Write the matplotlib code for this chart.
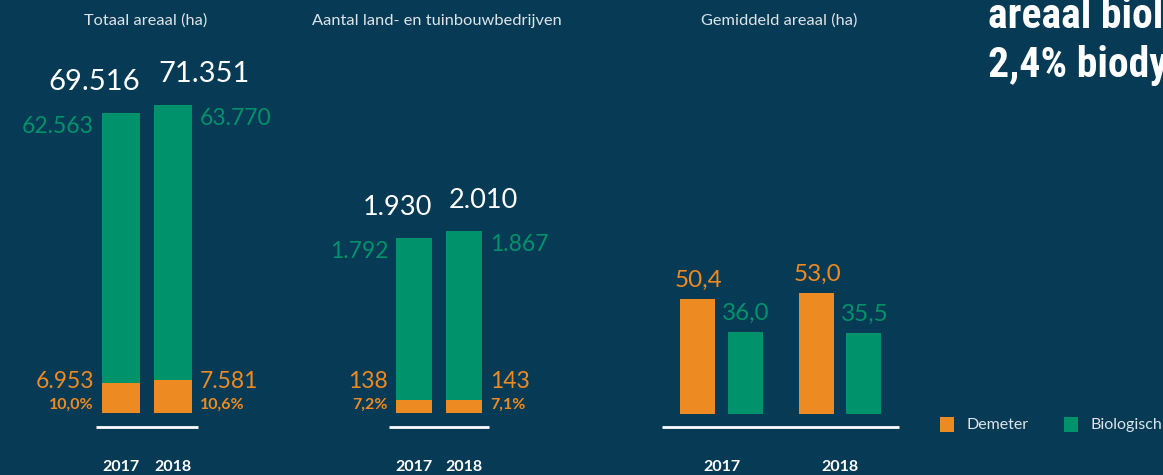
import matplotlib.pyplot as plt
from matplotlib.patches import Rectangle
from matplotlib.transforms import offset_copy

# Data
years = ['2017', '2018']

area_dem = [6953, 7581]          # Demeter (ha)
area_bio = [62563, 63770]        # Biologisch (ha)

farms_dem = [138, 143]
farms_bio = [1792, 1867]

avg_dem = [50.4, 53.0]           # gemiddeld areaal (ha)
avg_bio = [36.0, 35.5]

titles = ['Totaal areaal (ha)', 'Aantal land- en tuinbouwbedrijven', 'Gemiddeld areaal (ha)']
legend_labels = ['Demeter', 'Biologisch']
heading = ['areaal biologisch', '2,4% biodynamisch']

BG = '#073a55'
ORANGE = '#ee8a22'
GREEN = '#00926b'
WHITE = '#ffffff'
GREY = '#dde5ea'

W, H = 1163, 475
plt.rcParams['font.family'] = ['Lato', 'DejaVu Sans']


def thousands(v):
    return f'{v:,}'.replace(',', '.')


def comma(v):
    return f'{v:.1f}'.replace('.', ',')


def pct(part, total):
    return f'{100.0 * part / total:.1f}%'.replace('.', ',')


def add_ax(x0, x1, base, ymax):
    # axes from pixel x0..x1, baseline at pixel row `base` up to the top edge
    ax = fig.add_axes([x0 / W, (H - base) / H, (x1 - x0) / W, base / H])
    ax.set_xlim(-1, 2)
    ax.set_ylim(0, ymax)
    ax.axis('off')
    return ax


def lab(ax, x, y, s, dx, dy, **kw):
    ax.annotate(s, (x, y), xytext=(dx, dy), textcoords='offset pixels',
                annotation_clip=False, **kw)


def base_line(ax, x0, x1, dy):
    tr = offset_copy(ax.transData, fig=fig, x=0, y=dy, units='dots')
    ax.plot([x0, x1], [0, 0], color=WHITE, lw=2, transform=tr,
            clip_on=False, solid_capstyle='butt')


fig = plt.figure(figsize=(W / 100, H / 100), dpi=100)
fig.patch.set_facecolor(BG)


def stacked(ax, dem, bio, w, tot_size, tot_dx):
    xs = range(len(years))
    tot = [d + b for d, b in zip(dem, bio)]
    ax.bar(xs, dem, width=w, color=ORANGE, lw=0)
    ax.bar(xs, bio, width=w, bottom=dem, color=GREEN, lw=0)
    for i in xs:
        if i == 0:
            edge_in, edge_out, ha, sgn = i + w / 2, i - w / 2, 'right', -1
        else:
            edge_in, edge_out, ha, sgn = i - w / 2, i + w / 2, 'left', 1
        lab(ax, edge_in, tot[i], thousands(tot[i]), tot_dx[i], 23,
            ha=ha, va='baseline', color=WHITE, fontsize=tot_size)
        lab(ax, edge_out, tot[i], thousands(bio[i]), sgn * 8, -3,
            ha=ha, va='top', color=GREEN, fontsize=16.5)
        lab(ax, edge_out, 0, thousands(dem[i]), sgn * 8, 32,
            ha=ha, va='center', color=ORANGE, fontsize=16.5)
        lab(ax, edge_out, 0, pct(dem[i], tot[i]), sgn * 8, 8,
            ha=ha, va='center', color=ORANGE, fontsize=11.5, fontweight='bold')
        lab(ax, i, 0, years[i], 0, -54, ha='center', va='center',
            color=WHITE, fontsize=11.5, fontweight='bold')


# Totaal areaal
ax1 = add_ax(69, 225, 413, 69516 * 413 / 300)
stacked(ax1, area_dem, area_bio, 0.73, 21, [0, 4])
base_line(ax1, -0.49, 1.49, -14)

# Aantal bedrijven
ax2 = add_ax(364, 514, 413, 1930 * 413 / 175)
stacked(ax2, farms_dem, farms_bio, 0.72, 19.5, [0, 3])
base_line(ax2, -0.5, 1.5, -14)

# Gemiddeld areaal
ax3 = add_ax(603, 958.5, 414, 50.4 * 414 / 115)
off, bw = 0.2, 0.295
gx = list(range(len(years)))
ax3.bar([x - off for x in gx], avg_dem, width=bw, color=ORANGE, lw=0)
ax3.bar([x + off for x in gx], avg_bio, width=bw, color=GREEN, lw=0)
for i in gx:
    lab(ax3, i - off, avg_dem[i], comma(avg_dem[i]), 1, 12, ha='center', va='baseline',
        color=ORANGE, fontsize=17.5)
    lab(ax3, i + off, avg_bio[i], comma(avg_bio[i]), 1, 12, ha='center', va='baseline',
        color=GREEN, fontsize=17.5)
    lab(ax3, i, 0, years[i], 0, -53, ha='center', va='center',
        color=WHITE, fontsize=11.5, fontweight='bold')
base_line(ax3, -0.5, 1.5, -13)

# chart titles
for cx, t in zip([146, 437, 779], titles):
    fig.text(cx / W, 1 - 21 / H, t, ha='center', va='center', color=GREY, fontsize=11.8)

# legend
for lx, col, t in zip([940, 1064], [ORANGE, GREEN], legend_labels):
    fig.patches.append(Rectangle((lx / W, 1 - 432 / H), 14 / W, 15 / H,
                                 transform=fig.transFigure, facecolor=col, lw=0))
    fig.text((lx + 27) / W, 1 - 425 / H, t, ha='left', va='center', color=GREY, fontsize=11.5)

# heading, cut off at the edge like the source
for by, t in zip([28, 77], heading):
    fig.text(988 / W, 1 - by / H, t, ha='left', va='baseline', color=WHITE,
             fontsize=30, fontweight='bold', fontstretch='condensed',
             family=['Roboto Condensed', 'Liberation Sans Narrow', 'Roboto', 'DejaVu Sans'])

fig.savefig('out.png', dpi=100, facecolor=BG)
